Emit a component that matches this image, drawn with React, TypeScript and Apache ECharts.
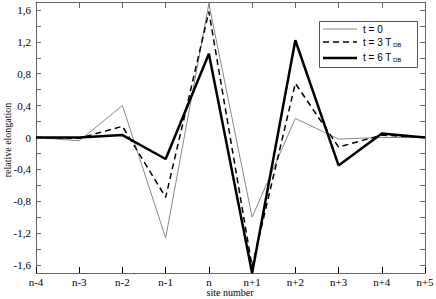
import React, { useEffect, useRef } from "react";
import * as echarts from "echarts";

const sites = ["n-4", "n-3", "n-2", "n-1", "n", "n+1", "n+2", "n+3", "n+4", "n+5"];
const t0 = [0, -0.04, 0.4, -1.26, 1.68, -1.0, 0.24, -0.02, 0.0, 0];
const t3 = [0, -0.01, 0.14, -0.75, 1.58, -1.62, 0.68, -0.12, 0.03, 0];
const t6 = [0, 0, 0.03, -0.27, 1.05, -1.7, 1.22, -0.35, 0.05, 0];
const yLabelValues = [-1.6, -1.2, -0.8, -0.4, 0, 0.4, 0.8, 1.2, 1.6];
const yTickValues = [-1.6, -1.4, -1.2, -1.0, -0.8, -0.6, -0.4, -0.2, 0, 0.2, 0.4, 0.6, 0.8, 1.0, 1.2, 1.4, 1.6];
const xTitle = "site number";
const yTitle = "relative elongation";

const fmt = (v: number) => {
  if (Math.abs(v) < 1e-9) return "0";
  return v.toFixed(1).replace(".", ",");
};

export default function App() {
  const ref = useRef<HTMLDivElement>(null);
  useEffect(() => {
    if (!ref.current) return;
    const chart = echarts.init(ref.current, null, { renderer: "svg" });
    const axisColor = "#666";
    const serif = "Liberation Serif";
    const sans = "Liberation Sans";
    const yBase = {
      type: "value" as const,
      min: -1.7,
      max: 1.7,
      splitLine: { show: false },
    };
    chart.setOption({
      animation: false,
      grid: { left: 36, right: 11, top: 2, bottom: 26, containLabel: false, outerBoundsMode: "none" },
      xAxis: [
        {
          type: "category",
          data: sites,
          boundaryGap: false,
          position: "bottom",
          axisLine: { show: true, onZero: false, lineStyle: { color: axisColor, width: 1 } },
          axisTick: { show: true, inside: true, length: 6, lineStyle: { color: "#000" } },
          axisLabel: { fontFamily: serif, fontSize: 11, color: "#000", margin: 3 },
          splitLine: { show: false },
        },
        {
          type: "category",
          data: sites,
          boundaryGap: false,
          position: "top",
          axisLine: { show: true, onZero: false, lineStyle: { color: axisColor, width: 1 } },
          axisTick: { show: true, inside: true, length: 6, lineStyle: { color: axisColor } },
          axisLabel: { show: false },
          splitLine: { show: false },
        },
      ],
      yAxis: [
        {
          ...yBase,
          position: "left",
          axisLine: { show: true, onZero: false, lineStyle: { color: axisColor, width: 1 } },
          axisTick: { show: true, inside: true, length: 5, customValues: yTickValues, lineStyle: { color: axisColor } },
          axisLabel: {
            fontFamily: serif,
            fontSize: 11,
            color: "#000",
            margin: 5,
            customValues: yLabelValues,
            formatter: (v: number) => fmt(v),
          },
        },
        {
          ...yBase,
          position: "right",
          axisLine: { show: true, onZero: false, lineStyle: { color: axisColor, width: 1 } },
          axisTick: { show: true, inside: true, length: 5, customValues: yTickValues, lineStyle: { color: axisColor } },
          axisLabel: { show: false },
        },
      ],
      series: [
        {
          name: "t = 0",
          type: "line",
          data: t0,
          symbol: "none",
          lineStyle: { color: "#888", width: 1 },
          z: 3,
        },
        {
          name: "t = 3 TDB",
          type: "line",
          data: t3,
          symbol: "none",
          lineStyle: { color: "#000", width: 1.5, type: [6, 4] },
          z: 4,
        },
        {
          name: "t = 6 TDB",
          type: "line",
          data: t6,
          symbol: "none",
          lineStyle: { color: "#000", width: 2.5 },
          z: 5,
        },
      ],
      graphic: [
        { type: "text", x: 230, y: 292, style: { text: xTitle, fontFamily: serif, fontSize: 10, fill: "#000", align: "center", verticalAlign: "middle" } },
        { type: "text", x: 7, y: 140, rotation: Math.PI / 2, style: { text: yTitle, fontFamily: serif, fontSize: 10, fill: "#000", align: "center", verticalAlign: "middle" } },
        { type: "rect", shape: { x: 319.5, y: 21.5, width: 98, height: 46 }, style: { fill: "#fff", stroke: "#555", lineWidth: 1 }, z: 10 },
        { type: "line", shape: { x1: 323, y1: 29, x2: 357, y2: 29 }, style: { stroke: "#888", lineWidth: 1 }, z: 11 },
        { type: "line", shape: { x1: 323, y1: 42, x2: 357, y2: 42 }, style: { stroke: "#000", lineWidth: 1.5, lineDash: [6, 4] }, z: 11 },
        { type: "line", shape: { x1: 323, y1: 58, x2: 357, y2: 58 }, style: { stroke: "#000", lineWidth: 2.5 }, z: 11 },
        { type: "text", x: 363, y: 29, style: { text: "t = 0", fontFamily: sans, fontSize: 10, fill: "#000", verticalAlign: "middle" }, z: 11 },
        { type: "text", x: 363, y: 42, style: { text: "t = 3 T", fontFamily: sans, fontSize: 10, fill: "#000", verticalAlign: "middle" }, z: 11 },
        { type: "text", x: 393, y: 45, style: { text: "DB", fontFamily: sans, fontSize: 6, fill: "#000", verticalAlign: "middle" }, z: 11 },
        { type: "text", x: 363, y: 57, style: { text: "t = 6 T", fontFamily: sans, fontSize: 10, fill: "#000", verticalAlign: "middle" }, z: 11 },
        { type: "text", x: 393, y: 60, style: { text: "DB", fontFamily: sans, fontSize: 6, fill: "#000", verticalAlign: "middle" }, z: 11 },
      ],
    });
    return () => chart.dispose();
  }, []);
  return <div ref={ref} style={{ width: 436, height: 299, position: "absolute", left: 0, top: 0 }} />;
}
